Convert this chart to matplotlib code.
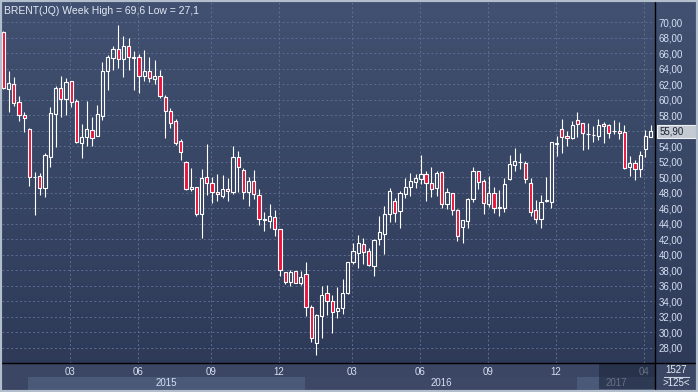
import numpy as np
import matplotlib
matplotlib.use("Agg")
import matplotlib.pyplot as plt
import matplotlib.transforms as mtransforms
from matplotlib.patches import Rectangle
from matplotlib.lines import Line2D
from matplotlib.colors import LinearSegmentedColormap

plt.rcParams["font.family"] = ["Liberation Sans", "DejaVu Sans"]

# weekly candles, BRENT(JQ)
opens = [68.75, 61.36, 61.96, 59.64, 58.00, 56.20, 50.00, 50.09, 48.54, 52.63,
         58.09, 61.44, 60.02, 62.35, 59.81, 54.43, 55.12, 56.02, 55.34, 57.92,
         63.72, 65.40, 66.52, 65.27, 66.90, 65.40, 65.44, 63.08, 63.68, 62.60,
         63.03, 60.28, 58.52, 57.23, 54.65, 51.98, 48.50, 48.67, 45.23, 49.96,
         49.19, 48.10, 47.60, 48.46, 48.10, 52.54, 50.87, 48.03, 49.48, 47.64,
         44.50, 44.40, 44.80, 43.26, 37.79, 36.50, 37.84, 36.40, 37.45, 33.28,
         28.63, 32.12, 35.00, 34.00, 32.76, 33.10, 35.08, 39.09, 40.25, 41.36,
         40.42, 38.60, 42.00, 42.61, 45.19, 46.95, 45.66, 47.77, 48.76, 49.40,
         49.75, 50.35, 49.30, 48.54, 50.61, 46.48, 47.90, 45.70, 43.60, 44.37,
         47.12, 50.78, 49.56, 46.48, 47.94, 46.05, 46.05, 49.75, 51.60, 51.95,
         51.80, 49.30, 45.70, 44.63, 46.95, 46.74, 54.30, 56.15, 55.25, 55.00,
         57.30, 56.93, 55.55, 55.40, 55.35, 56.84, 56.71, 55.90, 56.00, 55.77,
         51.34, 51.77, 51.00, 53.57, 55.20]
highs = [68.90, 63.68, 62.90, 60.45, 58.43, 56.28, 50.70, 50.48, 53.14, 59.03,
         61.79, 63.03, 62.73, 62.43, 60.07, 56.80, 59.81, 57.75, 59.29, 64.88,
         65.74, 66.95, 69.60, 68.19, 67.98, 66.26, 65.87, 66.39, 65.44, 65.10,
         63.80, 60.58, 58.90, 57.49, 54.90, 52.07, 51.12, 48.76, 51.04, 54.22,
         49.96, 50.40, 50.26, 49.90, 54.00, 53.36, 51.12, 49.96, 50.91, 48.46,
         45.53, 46.52, 45.75, 43.30, 37.80, 38.00, 37.90, 37.90, 39.00, 33.50,
         32.30, 35.99, 36.10, 34.78, 35.77, 36.84, 39.00, 41.45, 42.53, 42.10,
         40.80, 41.97, 44.98, 46.22, 48.54, 47.34, 48.20, 49.83, 50.52, 50.43,
         52.84, 50.78, 51.30, 50.78, 50.78, 48.54, 47.90, 45.88, 44.46, 47.34,
         51.25, 50.80, 49.70, 50.10, 48.70, 48.33, 49.90, 52.84, 53.70, 53.06,
         52.07, 49.83, 47.00, 47.70, 49.96, 54.56, 55.30, 57.49, 55.94, 57.23,
         58.35, 57.00, 57.00, 56.60, 57.44, 57.06, 56.80, 57.36, 57.06, 56.71,
         52.67, 52.16, 53.36, 56.07, 56.70]
lows = [61.30, 58.43, 59.20, 57.23, 55.77, 48.89, 45.10, 47.68, 47.47, 51.30,
        53.92, 57.79, 58.00, 59.08, 54.35, 52.50, 54.05, 54.00, 55.25, 57.36,
        61.23, 63.80, 64.02, 62.95, 63.80, 61.23, 60.88, 62.39, 62.30, 62.00,
        60.24, 55.08, 56.37, 54.13, 52.20, 48.33, 48.20, 45.00, 42.18, 47.68,
        46.65, 46.90, 47.34, 46.95, 47.80, 48.10, 47.17, 46.26, 47.12, 43.80,
        43.08, 43.47, 42.43, 37.28, 36.20, 36.00, 36.30, 36.07, 32.12, 28.77,
        27.10, 29.28, 32.20, 29.93, 31.86, 32.33, 34.87, 38.74, 38.31, 38.80,
        38.50, 37.28, 41.30, 40.07, 44.15, 44.15, 43.39, 47.34, 47.60, 48.63,
        49.06, 46.95, 47.47, 47.51, 46.05, 45.88, 45.10, 41.80, 41.53, 43.47,
        46.82, 48.46, 45.20, 46.20, 45.40, 45.00, 45.50, 49.60, 50.78, 51.04,
        49.27, 44.93, 44.10, 43.47, 46.80, 45.96, 52.76, 53.14, 54.05, 54.90,
        55.20, 53.53, 53.60, 54.56, 54.80, 54.40, 55.10, 55.50, 54.95, 51.04,
        50.13, 49.66, 50.00, 52.60, 55.20]
closes = [61.50, 62.09, 59.51, 58.00, 57.57, 49.96, 50.05, 48.54, 52.84, 58.22,
          61.53, 60.02, 62.22, 59.72, 54.56, 55.12, 56.15, 55.08, 58.09, 63.68,
          65.44, 66.52, 65.27, 66.90, 65.53, 65.45, 63.08, 63.68, 62.73, 63.03,
          60.50, 58.56, 57.00, 54.43, 53.27, 48.46, 48.67, 45.23, 49.83, 49.30,
          48.10, 47.77, 48.46, 48.20, 52.54, 51.25, 48.10, 49.48, 47.77, 44.54,
          44.55, 44.93, 43.26, 37.97, 36.50, 37.79, 36.40, 37.06, 33.28, 29.20,
          32.20, 34.78, 34.05, 32.63, 33.06, 35.10, 39.00, 40.46, 41.45, 40.37,
          38.65, 41.88, 42.87, 45.19, 48.20, 45.32, 47.90, 48.76, 49.48, 49.83,
          50.45, 49.19, 48.41, 50.48, 46.48, 48.03, 45.75, 42.43, 44.46, 47.17,
          50.78, 49.43, 46.60, 48.00, 46.00, 46.10, 49.10, 51.69, 52.07, 52.00,
          49.70, 45.53, 44.59, 46.82, 47.05, 54.48, 54.35, 55.20, 55.00, 56.67,
          56.80, 55.64, 55.60, 55.45, 56.71, 56.54, 55.64, 55.95, 55.64, 51.21,
          51.77, 51.00, 52.80, 55.25, 55.90]

# x axis: month grid (candle index) and year bands (start index)
month_pos = [12.8, 25.8, 39.8, 52.8, 66.8, 79.8, 92.8, 105.8, 122.8]
month_labels = ["03", "06", "09", "12", "03", "06", "09", "12", "04"]
year_start = [4.7, 57.8, 109.9]
year_labels = ["2015", "2016", "2017"]
price_ticks = np.arange(28, 71, 2)
last_price = closes[-1]

W, H = 698, 392
def fx(px):
    return px / W
def fy(py):
    return 1 - py / H

txt = "#d5e0f2"
red = "#e8143c"
fs = 7

fig = plt.figure(figsize=(W / 100, H / 100), dpi=100)

# hintergrund-verlauf
bg = fig.add_axes([0, 0, 1, 1], zorder=-3)
bg.axis("off")
cmap = LinearSegmentedColormap.from_list("bg", ["#425171", "#2c3856"])
bg.imshow(np.linspace(0, 1, 256).reshape(-1, 1), aspect="auto", cmap=cmap,
          extent=[0, 1, 0, 1])
bg.set_xlim(0, 1)
bg.set_ylim(0, 1)

ax = fig.add_axes([fx(2), 29 / H, (655 - 2) / W, (363 - 2) / H])
ax.set_facecolor("none")
ax.set_xlim(-0.25, 124.85)
ax.set_ylim(26.03, 72.58)

o = np.array(opens)
h = np.array(highs)
l = np.array(lows)
c = np.array(closes)
x = np.arange(len(o))
top = np.maximum(o, c)
bot = np.minimum(o, c)
up = c >= o

# dochte (ober- und unterhalb des koerpers)
ax.vlines(x, top, h, color="white", lw=0.8, zorder=3)
ax.vlines(x, l, bot, color="white", lw=0.8, zorder=3)
ax.bar(x[up], (top - bot)[up], bottom=bot[up], width=0.62,
       facecolor="none", edgecolor="white", lw=0.8, zorder=4)
ax.bar(x[~up], (top - bot)[~up], bottom=bot[~up], width=0.62,
       facecolor=red, edgecolor="white", lw=0.8, zorder=4)

ax.set_yticks(price_ticks)
ax.set_yticklabels([f"{v:.2f}".replace(".", ",") for v in price_ticks])
ax.yaxis.tick_right()
ax.set_xticks(month_pos)
ax.set_xticklabels(month_labels)
ax.tick_params(axis="y", length=0, pad=2.5, labelsize=fs, labelcolor=txt)
ax.tick_params(axis="x", length=0, pad=3, labelsize=fs, labelcolor=txt)
ax.grid(True, color="#5e6e8e", linestyle=(0, (2, 2.5)), lw=0.7)
ax.set_axisbelow(True)
for s in ["left", "top", "bottom"]:
    ax.spines[s].set_visible(False)
ax.spines["right"].set_color("black")
ax.spines["right"].set_linewidth(1)

# untere leiste
fig.patches.append(Rectangle((0, 0), 1, 29 / H, transform=fig.transFigure,
                             facecolor="#3a4663", edgecolor="none", zorder=-1))
tb = mtransforms.blended_transform_factory(ax.transData, fig.transFigure)
ends = year_start[1:] + [124.85]
for i, (s, e) in enumerate(zip(year_start, ends)):
    col = "#4b5978" if i % 2 == 0 else "#3c4866"
    fig.patches.append(Rectangle((s, fy(390)), e - s, (390 - 377) / H,
                                 transform=tb, facecolor=col, edgecolor="none",
                                 zorder=-0.5))
    fig.text((s + e) / 2, fy(383), year_labels[i], transform=tb, ha="center",
             va="center", fontsize=fs, color=txt, zorder=0.5)
# dunkler schieber rechts unten
fig.patches.append(Rectangle((114.1, fy(389)), 124.85 - 114.1, (389 - 364) / H,
                             transform=tb, facecolor="#1c263c", alpha=0.6,
                             edgecolor="none", zorder=1))

fig.lines.append(Line2D([fx(2), 1], [fy(363), fy(363)], transform=fig.transFigure,
                        color="black", lw=1))
fig.lines.append(Line2D([fx(655), fx(655)], [fy(363), fy(390)],
                        transform=fig.transFigure, color="black", lw=1))

fig.text(fx(676), fy(370), "1527", ha="center", va="center", fontsize=fs,
         color="#e6ecf5")
fig.lines.append(Line2D([fx(664), fx(689)], [fy(377), fy(377)],
                        transform=fig.transFigure, color="#c8d2e0", lw=0.8))
fig.text(fx(676), fy(383.5), ">125<", ha="center", va="center", fontsize=fs,
         color="#e6ecf5")

# kursmarke
pb = mtransforms.blended_transform_factory(fig.transFigure, ax.transData)
fig.patches.append(Rectangle((fx(657), last_price - 0.84), fx(41), 1.68,
                             transform=pb, facecolor="#c4c9d2",
                             edgecolor="#eef0f4", lw=0.8, zorder=2))
fig.text(fx(660), last_price, f"{last_price:.2f}".replace(".", ","),
         transform=pb, ha="left", va="center", fontsize=fs, color="#1b2233",
         zorder=3)

fig.text(fx(4), fy(11), "BRENT(JQ) Week High = 69,6 Low = 27,1", ha="left",
         va="center", fontsize=7.5, color="#e2e8f2")

# rahmen
fig.patches.append(Rectangle((0, 0), 1, 1, transform=fig.transFigure, fill=False,
                             edgecolor="#b3becd", lw=3, zorder=5))

fig.savefig("out.png", dpi=100)
